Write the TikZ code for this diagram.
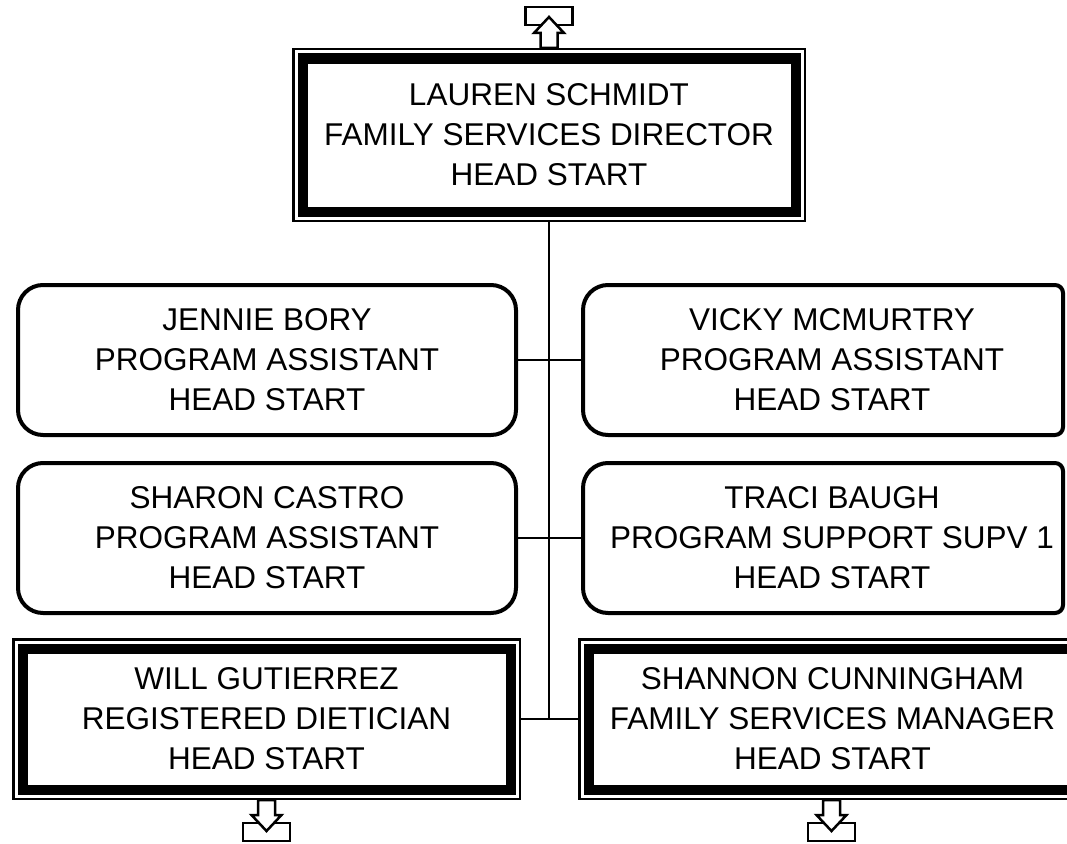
\documentclass[tikz,border=0pt]{standalone}
\usepackage{fontspec}
\setmainfont{Liberation Sans}
\begin{document}
\begin{tikzpicture}[x=1pt,y=-1pt,
  txt/.style={font=\fontsize{31.5pt}{40pt}\selectfont, align=center, inner sep=0pt, outer sep=0pt},
  rbox/.style={txt, draw, line width=4pt, rounded corners=25pt, minimum width=498pt, minimum height=150pt},
  rtext/.style={txt, minimum width=498pt, minimum height=150pt},
  rline/.style={line width=4pt},
  tribox/.style={txt, draw, line width=10pt},
  thinline/.style={line width=2.5pt},
  conn/.style={line width=2pt},
  icon/.style={line width=2.5pt, line join=miter},
  upicon/.pic={
    \draw[icon] (-23.5pt,23pt) rectangle (23.5pt,41pt);
    \draw[icon,fill=white] (-8.5pt,0pt) -- (-8.5pt,15pt) -- (-15pt,15pt) -- (0pt,31pt) -- (15pt,15pt) -- (8.5pt,15pt) -- (8.5pt,0pt) -- cycle;
  },
  downicon/.pic={
    \draw[icon] (-23.5pt,-23pt) rectangle (23.5pt,-41pt);
    \draw[icon,fill=white] (-8.5pt,0pt) -- (-8.5pt,-15pt) -- (-15pt,-15pt) -- (0pt,-31pt) -- (15pt,-15pt) -- (8.5pt,-15pt) -- (8.5pt,0pt) -- cycle;
  },
]
\useasboundingbox (0,0) rectangle (1067,843);
\clip (0,0) rectangle (1067,843);
\fill[white] (0,0) rectangle (1067,843);

% top box
\node[tribox, minimum width=493pt, minimum height=153pt] (top) at (549,135)
  {LAUREN SCHMIDT\\FAMILY SERVICES DIRECTOR\\HEAD START};
\draw[thinline] ([xshift=-9.25pt,yshift=9.25pt]top.north west) rectangle ([xshift=9.25pt,yshift=-9.25pt]top.south east);

% row 1
\node[rbox] (jb) at (267,360) {JENNIE BORY\\PROGRAM ASSISTANT\\HEAD START};
\node[rtext] (vm) at (832,360) {VICKY MCMURTRY\\PROGRAM ASSISTANT\\HEAD START};
% row 2
\node[rbox] (sc) at (267,538) {SHARON CASTRO\\PROGRAM ASSISTANT\\HEAD START};
\node[rtext] (tb) at (832,538) {TRACI BAUGH\\PROGRAM SUPPORT SUPV 1\\HEAD START};

\coordinate (redge) at (1063,0);
\foreach \n in {vm,tb}{
  \draw[rline, rounded corners=25pt] (\n.north) -- (\n.north west) -- (\n.south west) -- (\n.south);
  \draw[rline, rounded corners=8pt] (\n.north) -- (\n.north -| redge) -- (\n.south -| redge) -- (\n.south);
}

% row 3
\node[tribox, minimum width=488pt, minimum height=141pt] (wg) at (266.5,719)
  {WILL GUTIERREZ\\REGISTERED DIETICIAN\\HEAD START};
\draw[thinline] ([xshift=-9.25pt,yshift=9.25pt]wg.north west) rectangle ([xshift=9.25pt,yshift=-9.25pt]wg.south east);
\node[tribox, minimum width=488pt, minimum height=141pt] (scu) at (832.5,719)
  {SHANNON CUNNINGHAM\\FAMILY SERVICES MANAGER\\HEAD START};
\draw[thinline] ([xshift=-9.25pt,yshift=9.25pt]scu.north west) rectangle ([xshift=9.25pt,yshift=-9.25pt]scu.south east);

% connectors
\coordinate (trunk) at (549,719);
\draw[conn] ([yshift=-10.5pt]top.south) -- (trunk);
\draw[conn] (jb.east) -- (vm.west);
\draw[conn] (sc.east) -- (tb.west);
\draw[conn] ([xshift=10.5pt]wg.east) -- ([xshift=-10.5pt]scu.west);

% icons
\coordinate (upin) at ([yshift=10.5pt]top.north);
\pic at (upin) {upicon};
\coordinate (dnl) at ([yshift=-10.5pt]wg.south);
\pic at (dnl) {downicon};
\coordinate (dnr) at ([xshift=-1pt,yshift=-10.5pt]scu.south);
\pic at (dnr) {downicon};
\end{tikzpicture}
\end{document}
